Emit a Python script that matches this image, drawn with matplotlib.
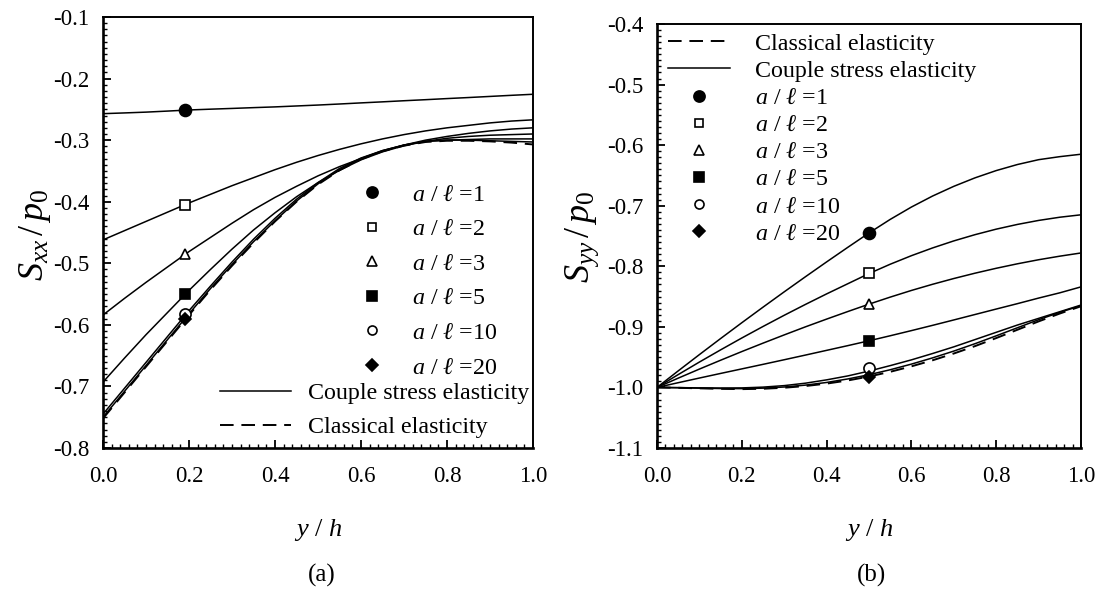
import matplotlib
matplotlib.use('Agg')
import matplotlib.pyplot as plt
from matplotlib.lines import Line2D
from matplotlib.ticker import MultipleLocator, FormatStrFormatter

plt.rcParams['font.family'] = ['Liberation Serif', 'DejaVu Serif']
plt.rcParams['mathtext.fontset'] = 'custom'
plt.rcParams['mathtext.rm'] = 'Liberation Serif'
plt.rcParams['mathtext.it'] = 'Liberation Serif:italic'
plt.rcParams['axes.unicode_minus'] = False

# ---------------- data ----------------
ratios = [1, 2, 3, 5, 10, 20]
ratio_labels = [r'$a$ / $\ell$ =1', r'$a$ / $\ell$ =2', r'$a$ / $\ell$ =3',
                r'$a$ / $\ell$ =5', r'$a$ / $\ell$ =10', r'$a$ / $\ell$ =20']
marker_shapes = ['o', 's', '^', 's', 'o', 'D']
marker_faces = ['black', 'white', 'white', 'black', 'white', 'black']

# panel (a): S_xx / p0
x_a = [0.00, 0.05, 0.10, 0.15, 0.20, 0.25, 0.30, 0.35, 0.40, 0.45, 0.50,
       0.55, 0.60, 0.65, 0.70, 0.75, 0.80, 0.85, 0.90, 0.95, 1.00]
sxx_r1 = [-0.257, -0.2558, -0.2545, -0.2528, -0.251, -0.2497, -0.2485, -0.2472, -0.246, -0.2445, -0.243,
          -0.2413, -0.2395, -0.2378, -0.236, -0.2343, -0.2325, -0.2308, -0.229, -0.2272, -0.2255]
sxx_r2 = [-0.462, -0.447, -0.432, -0.417, -0.402, -0.388, -0.374, -0.361, -0.348, -0.336, -0.325,
          -0.315, -0.306, -0.298, -0.291, -0.285, -0.280, -0.276, -0.272, -0.269, -0.267]
sxx_r3 = [-0.584, -0.557, -0.531, -0.506, -0.481, -0.458, -0.435, -0.413, -0.393, -0.375, -0.358,
          -0.343, -0.330, -0.318, -0.308, -0.300, -0.294, -0.289, -0.285, -0.282, -0.280]
sxx_r5 = [-0.693, -0.654, -0.616, -0.580, -0.544, -0.510, -0.477, -0.446, -0.418, -0.392, -0.369,
          -0.349, -0.332, -0.319, -0.309, -0.302, -0.297, -0.294, -0.292, -0.291, -0.290]
sxx_r10 = [-0.745, -0.703, -0.661, -0.619, -0.577, -0.537, -0.498, -0.461, -0.427, -0.396, -0.369,
           -0.346, -0.329, -0.317, -0.308, -0.302, -0.300, -0.299, -0.298, -0.298, -0.298]
sxx_r20 = [-0.750, -0.708, -0.666, -0.624, -0.582, -0.541, -0.502, -0.465, -0.431, -0.399, -0.371,
           -0.348, -0.330, -0.317, -0.308, -0.302, -0.300, -0.300, -0.301, -0.302, -0.303]
sxx_classical = [-0.752, -0.710, -0.668, -0.626, -0.584, -0.543, -0.504, -0.467, -0.432, -0.400, -0.372,
                 -0.349, -0.331, -0.318, -0.309, -0.303, -0.301, -0.301, -0.302, -0.304, -0.307]
sxx_marker_x = [0.19, 0.19, 0.19, 0.19, 0.19, 0.19]
sxx_marker_y = [-0.251, -0.405, -0.485, -0.550, -0.583, -0.590]

# panel (b): S_yy / p0
x_b = [0.00, 0.05, 0.10, 0.15, 0.20, 0.25, 0.30, 0.35, 0.40, 0.45, 0.50,
       0.55, 0.60, 0.65, 0.70, 0.75, 0.80, 0.85, 0.90, 0.95, 1.00]
syy_r1 = [-1.0, -0.9727, -0.9458, -0.9193, -0.8932, -0.8675, -0.8422, -0.8173, -0.7928, -0.7687, -0.745,
          -0.7226, -0.7022, -0.6840, -0.6680, -0.6540, -0.6420, -0.6320, -0.6240, -0.6190, -0.615]
syy_r2 = [-1.0, -0.9788, -0.9581, -0.9380, -0.9184, -0.8994, -0.8809, -0.8630, -0.8456, -0.8288, -0.812,
          -0.7966, -0.7825, -0.7697, -0.7581, -0.7478, -0.7387, -0.7309, -0.7243, -0.7190, -0.715]
syy_r3 = [-1.0, -0.9847, -0.9697, -0.9551, -0.9408, -0.9269, -0.9133, -0.9000, -0.8872, -0.8747, -0.8625,
          -0.8509, -0.8399, -0.8297, -0.8202, -0.8114, -0.8033, -0.7959, -0.7892, -0.7833, -0.778]
syy_r5 = [-1.0, -0.9922, -0.9845, -0.9769, -0.9694, -0.9619, -0.9543, -0.9466, -0.9388, -0.9310, -0.9230,
          -0.9147, -0.9062, -0.8975, -0.8886, -0.8796, -0.8706, -0.8617, -0.8525, -0.8438, -0.834]
syy_r10 = [-1.0, -1.0003, -1.0008, -1.0010, -1.0008, -0.9995, -0.997, -0.993, -0.9875, -0.981, -0.973,
           -0.964, -0.9545, -0.944, -0.933, -0.921, -0.909, -0.897, -0.886, -0.875, -0.864]
syy_r20 = [-1.0, -1.0005, -1.0012, -1.0018, -1.0020, -1.0012, -0.9993, -0.9962, -0.9918, -0.9860, -0.9790,
           -0.9708, -0.9615, -0.9512, -0.9400, -0.9278, -0.9148, -0.9015, -0.8882, -0.8760, -0.865]
syy_classical = [-1.0, -1.0006, -1.0015, -1.0023, -1.0028, -1.0022, -1.0005, -0.9977, -0.9937, -0.9885, -0.9820,
                 -0.9742, -0.9652, -0.9552, -0.9440, -0.9318, -0.9185, -0.9048, -0.8910, -0.8780, -0.866]
syy_marker_x = [0.5, 0.5, 0.5, 0.5, 0.5, 0.5]
syy_marker_y = [-0.745, -0.811, -0.862, -0.923, -0.968, -0.982]

x_ticks = [0.0, 0.2, 0.4, 0.6, 0.8, 1.0]
# ---------------------------------------

W, H = 1106, 590
fig = plt.figure(figsize=(W / 100, H / 100), dpi=100)

def px_rect(l, t, r, b):
    return [l / W, 1 - b / H, (r - l) / W, (b - t) / H]

ax_a = fig.add_axes(px_rect(103, 17, 533, 448))
ax_b = fig.add_axes(px_rect(657, 24, 1081, 448))

curve_ms = [8.6, 7.0, 7.5, 7.0, 8.0, 6.3]
legend_ms = [8.0, 6.0, 6.5, 6.5, 6.5, 6.0]
LEG_FS = 17.3

def style_axes(ax, ylim, ymajor):
    ax.set_xlim(0, 1)
    ax.set_ylim(*ylim)
    ax.set_xticks(x_ticks)
    ax.xaxis.set_minor_locator(MultipleLocator(0.02))
    ax.yaxis.set_major_locator(MultipleLocator(ymajor))
    ax.yaxis.set_minor_locator(MultipleLocator(ymajor / 10))
    ax.xaxis.set_major_formatter(FormatStrFormatter('%.1f'))
    ax.yaxis.set_major_formatter(FormatStrFormatter('%.1f'))
    ax.tick_params(which='both', direction='in', top=False, right=False,
                   labelsize=16.5, colors='black')
    ax.tick_params(which='major', length=6, width=1.3)
    ax.tick_params(axis='x', which='major', pad=13)
    ax.tick_params(axis='y', which='major', pad=10)
    ax.tick_params(which='minor', length=3, width=1.0)
    ax.spines['left'].set_linewidth(1.9)
    ax.spines['bottom'].set_linewidth(1.9)
    ax.spines['top'].set_linewidth(1.4)
    ax.spines['right'].set_linewidth(1.4)

# ---- panel (a)
series_a = [sxx_r1, sxx_r2, sxx_r3, sxx_r5, sxx_r10, sxx_r20]
for ys in series_a:
    ax_a.plot(x_a, ys, color='black', lw=1.1)
ax_a.plot(x_a, sxx_classical, color='black', lw=1.4, dashes=(7, 4))
for i in range(6):
    ax_a.plot(sxx_marker_x[i], sxx_marker_y[i], marker=marker_shapes[i],
              ms=curve_ms[i], mfc=marker_faces[i], mec='black', mew=1.2,
              linestyle='none', zorder=5)
style_axes(ax_a, (-0.8, -0.1), 0.1)

mk_handles = [Line2D([], [], linestyle='none', marker=marker_shapes[i],
                     ms=legend_ms[i], mfc=marker_faces[i], mec='black', mew=1.2)
              for i in range(6)]
leg1 = ax_a.legend(mk_handles, ratio_labels, loc='upper left',
                   bbox_to_anchor=(0.569, 0.613), frameon=False, fontsize=LEG_FS,
                   handlelength=2.0, handletextpad=0.66, labelspacing=0.53,
                   borderpad=0, borderaxespad=0, numpoints=1)
ax_a.add_artist(leg1)
ln_handles = [Line2D([], [], color='black', lw=1.1),
              Line2D([], [], color='black', lw=1.4, dashes=(7, 4))]
ax_a.legend(ln_handles, ['Couple stress elasticity', 'Classical elasticity'],
            loc='upper left', bbox_to_anchor=(0.272, 0.152), frameon=False,
            fontsize=LEG_FS, handlelength=2.95, handletextpad=0.71, labelspacing=0.5,
            borderpad=0, borderaxespad=0)

# ---- panel (b)
series_b = [syy_r1, syy_r2, syy_r3, syy_r5, syy_r10, syy_r20]
for ys in series_b:
    ax_b.plot(x_b, ys, color='black', lw=1.1)
ax_b.plot(x_b, syy_classical, color='black', lw=1.4, dashes=(7, 4))
for i in range(6):
    ax_b.plot(syy_marker_x[i], syy_marker_y[i], marker=marker_shapes[i],
              ms=curve_ms[i], mfc=marker_faces[i], mec='black', mew=1.2,
              linestyle='none', zorder=5)
style_axes(ax_b, (-1.1, -0.4), 0.1)

b_handles = [Line2D([], [], color='black', lw=1.4, dashes=(7, 4)),
             Line2D([], [], color='black', lw=1.1)] + mk_handles
b_labels = ['Classical elasticity', 'Couple stress elasticity'] + ratio_labels
ax_b.legend(b_handles, b_labels, loc='upper left', bbox_to_anchor=(0.026, 0.979),
            frameon=False, fontsize=LEG_FS, handlelength=2.58, handletextpad=1.04,
            labelspacing=0.22, borderpad=0, borderaxespad=0, numpoints=1)

# ---- axis titles
fig.text(35 / W, 1 - 235 / H, r'$S_{xx}\,/\,p_{\mathit{0}}$', rotation=90,
         ha='center', va='center', fontsize=26)
fig.text(582 / W, 1 - 237 / H, r'$S_{yy}\,/\,p_{\mathit{0}}$', rotation=90,
         ha='center', va='center', fontsize=26)
fig.text(318 / W, 1 - 530 / H, r'$y$ / $h$', ha='center', va='center', fontsize=19)
fig.text(869 / W, 1 - 530 / H, r'$y$ / $h$', ha='center', va='center', fontsize=19)
fig.text(322 / W, 1 - 575 / H, '(a)', ha='center', va='center', fontsize=18)
fig.text(871 / W, 1 - 575 / H, '(b)', ha='center', va='center', fontsize=18)

fig.savefig('out.png', dpi=100, facecolor='white')
